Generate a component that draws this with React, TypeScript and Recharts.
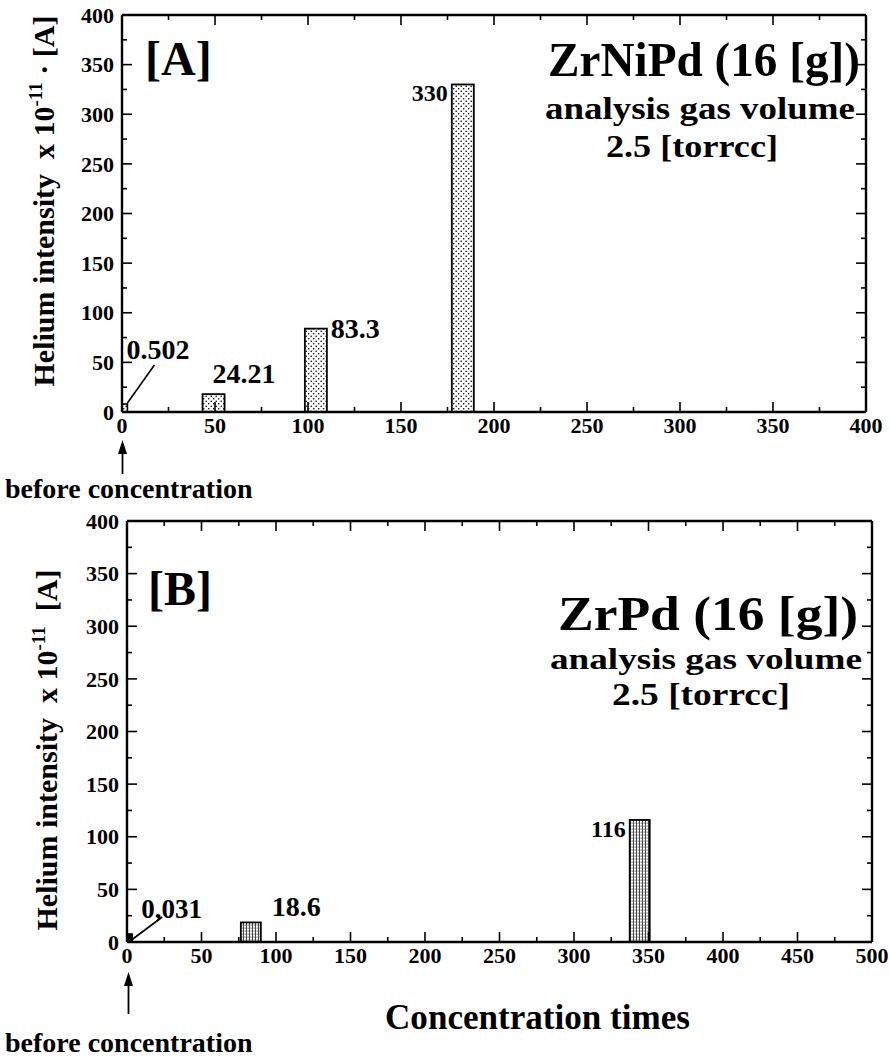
import React from 'react';
import { BarChart, Bar, XAxis, YAxis } from 'recharts';

const FONT = "'Liberation Serif', 'Times New Roman', Times, serif";

// ---------- Panel A : ZrNiPd ----------
const concentrationA = [0, 49, 104, 183];
const heliumA = [0.502, 18, 84, 330];
const valueLabelsA = ['0.502', '24.21', '83.3', '330'];
const labelPlacementA = ['leader', 'above', 'right', 'left'];
const xMajorA = [0, 50, 100, 150, 200, 250, 300, 350, 400];
const xMinorA = [25, 75, 125, 175, 225, 275, 325, 375];

// ---------- Panel B : ZrPd ----------
const concentrationB = [0, 83, 344];
const heliumB = [0.031, 18.6, 116];
const valueLabelsB = ['0,031', '18.6', '116'];
const labelPlacementB = ['leader', 'upperRight', 'left'];
const xMajorB = [0, 50, 100, 150, 200, 250, 300, 350, 400, 450, 500];
const xMinorB = [25, 75, 125, 175, 225, 275, 325, 375, 425, 475];

// ---------- shared y axis ----------
const yMajor = [0, 50, 100, 150, 200, 250, 300, 350, 400];
const yMinor = [25, 75, 125, 175, 225, 275, 325, 375];

const dataA = concentrationA.map((x, i) => ({ x, y: heliumA[i], label: valueLabelsA[i], place: labelPlacementA[i] }));
const dataB = concentrationB.map((x, i) => ({ x, y: heliumB[i], label: valueLabelsB[i], place: labelPlacementB[i] }));

const AX = { stroke: '#000', strokeWidth: 2.4 };

function XTick(props: any) {
  const { x, y, payload, side, majors } = props;
  const v = payload.value;
  const major = majors.includes(v);
  const len = major ? 10 : 5;
  const dir = side === 'bottom' ? -1 : 1;
  return (
    <g>
      <line x1={x} y1={y} x2={x} y2={y + dir * len} stroke="#000" strokeWidth={1.6} />
      {side === 'bottom' && major ? (
        <text x={x} y={y + 21} textAnchor="middle" fontFamily={FONT} fontWeight="bold" fontSize={22} fill="#000">
          {v}
        </text>
      ) : null}
    </g>
  );
}

function YTick(props: any) {
  const { x, y, payload, side } = props;
  const v = payload.value;
  const major = yMajor.includes(v);
  const len = major ? 10 : 5;
  const dir = side === 'left' ? 1 : -1;
  return (
    <g>
      <line x1={x} y1={y} x2={x + dir * len} y2={y} stroke="#000" strokeWidth={1.6} />
      {side === 'left' && major ? (
        <text x={x - 8} y={y} dy="0.35em" textAnchor="end" fontFamily={FONT} fontWeight="bold" fontSize={22} fill="#000">
          {v}
        </text>
      ) : null}
    </g>
  );
}

function BarShape(props: any) {
  const { x, y, width, height, payload, fillId, markerFill, leader } = props;
  const cx = x + width / 2;
  const base = y + height;
  const labelStyle = { fontFamily: FONT, fontWeight: 'bold' as const, fontSize: 28, fill: '#000' };
  let body;
  if (height < 4) {
    body = <rect x={cx - 5} y={base - 8} width={10} height={8} fill={markerFill} stroke="#000" strokeWidth={1.6} />;
  } else {
    body = <rect x={x} y={y} width={width} height={height} fill={`url(#${fillId})`} stroke="#000" strokeWidth={1.8} />;
  }
  let label = null;
  const p = payload.place;
  if (p === 'leader') {
    label = (
      <g>
        <line x1={cx + leader.x1} y1={base + leader.y1} x2={cx + leader.x2} y2={base + leader.y2} stroke="#000" strokeWidth={1.6} />
        <text x={cx + leader.tx} y={base + leader.ty} {...labelStyle} fontSize={leader.fs}>{payload.label}</text>
      </g>
    );
  } else if (p === 'above') {
    label = <text x={x + 10} y={y - 11} {...labelStyle}>{payload.label}</text>;
  } else if (p === 'upperRight') {
    label = <text x={x + width + 11} y={y - 6} {...labelStyle}>{payload.label}</text>;
  } else if (p === 'right') {
    label = <text x={x + width + 4} y={y + 9} {...labelStyle}>{payload.label}</text>;
  } else if (p === 'left') {
    label = <text x={x - 4} y={y + 17} textAnchor="end" {...labelStyle} fontSize={24}>{payload.label}</text>;
  }
  return (
    <g>
      {body}
      {label}
    </g>
  );
}

function Panel(props: any) {
  const { data, xMajor, xMinor, xMax, width, height, margin, yAxisWidth, barSize, fillId, markerFill, leader } = props;
  const xTicks = [...xMajor, ...xMinor].sort((a: number, b: number) => a - b);
  const yTicks = [...yMajor, ...yMinor].sort((a, b) => a - b);
  return (
    <BarChart width={width} height={height} data={data} margin={margin}>
      <XAxis xAxisId="b" type="number" dataKey="x" domain={[0, xMax]} ticks={xTicks} interval={0} orientation="bottom"
        height={30} tickSize={0} tickMargin={0} tickLine={false} axisLine={AX} allowDataOverflow
        tick={(p: any) => <XTick {...p} side="bottom" majors={xMajor} />} />
      <XAxis xAxisId="t" type="number" dataKey="x" domain={[0, xMax]} ticks={xTicks} interval={0} orientation="top"
        height={1} tickSize={0} tickMargin={0} tickLine={false} axisLine={AX} allowDataOverflow
        tick={(p: any) => <XTick {...p} side="top" majors={xMajor} />} />
      <YAxis yAxisId="l" type="number" domain={[0, 400]} ticks={yTicks} interval={0} orientation="left"
        width={yAxisWidth} tickSize={0} tickMargin={0} tickLine={false} axisLine={AX} allowDataOverflow
        tick={(p: any) => <YTick {...p} side="left" />} />
      <YAxis yAxisId="r" type="number" domain={[0, 400]} ticks={yTicks} interval={0} orientation="right"
        width={1} tickSize={0} tickMargin={0} tickLine={false} axisLine={AX} allowDataOverflow
        tick={(p: any) => <YTick {...p} side="right" />} />
      <Bar xAxisId="b" yAxisId="l" dataKey="y" barSize={barSize} isAnimationActive={false}
        shape={(p: any) => <BarShape {...p} fillId={fillId} markerFill={markerFill} leader={leader} />} />
    </BarChart>
  );
}

const T = { fontFamily: FONT, fontWeight: 'bold' as const, fill: '#000' };

export default function App() {
  return (
    <div style={{ position: 'absolute', left: 0, top: 0, width: 890, height: 1059, background: '#fff', overflow: 'hidden' }}>
      <svg width={0} height={0} style={{ position: 'absolute' }}>
        <defs>
          <pattern id="dotsA" patternUnits="userSpaceOnUse" width={5} height={5}>
            <rect width={5} height={5} fill="#fff" />
            <circle cx={1.2} cy={1.2} r={0.8} fill="#000" />
            <circle cx={3.7} cy={3.7} r={0.8} fill="#000" />
          </pattern>
          <pattern id="meshB" patternUnits="userSpaceOnUse" width={3} height={3}>
            <rect width={3} height={3} fill="#fff" />
            <rect x={0} y={0} width={0.9} height={3} fill="#333" />
            <rect x={1.6} y={1.6} width={1} height={1} fill="#222" />
          </pattern>
        </defs>
      </svg>

      <div style={{ position: 'absolute', left: 0, top: 0 }}>
        <Panel data={dataA} xMajor={xMajorA} xMinor={xMinorA} xMax={400} width={890} height={450}
          margin={{ top: 14, right: 23, left: 0, bottom: 8 }} yAxisWidth={122} barSize={22}
          fillId="dotsA" markerFill="url(#dotsA)"
          leader={{ x1: 5, y1: -9, x2: 32, y2: -47, tx: 4, ty: -53, fs: 28 }} />
      </div>
      <div style={{ position: 'absolute', left: 0, top: 500 }}>
        <Panel data={dataB} xMajor={xMajorB} xMinor={xMinorB} xMax={500} width={890} height={480}
          margin={{ top: 20, right: 17, left: 0, bottom: 8 }} yAxisWidth={127} barSize={20}
          fillId="meshB" markerFill="#000"
          leader={{ x1: 3, y1: -1, x2: 35, y2: -25, tx: 14, ty: -24, fs: 27 }} />
      </div>

      <svg width={890} height={1059} style={{ position: 'absolute', left: 0, top: 0, pointerEvents: 'none' }}>
        {/* Panel A annotations */}
        <text x={145} y={75} {...T} fontSize={48}>[A]</text>
        <text x={860} y={76} textAnchor="end" {...T} fontSize={49} textLength={312} lengthAdjust="spacingAndGlyphs">ZrNiPd (16 [g])</text>
        <text x={855} y={119} textAnchor="end" {...T} fontSize={31} textLength={310} lengthAdjust="spacingAndGlyphs">analysis gas volume</text>
        <text x={778} y={157} textAnchor="end" {...T} fontSize={31} textLength={172} lengthAdjust="spacingAndGlyphs">2.5 [torrcc]</text>
        <text transform="translate(54,201) rotate(-90)" textAnchor="middle" {...T} fontSize={30} style={{ whiteSpace: 'pre' }}>
          {'Helium intensity  x 10'}
          <tspan dy={-12} fontSize={19}>-11</tspan>
          <tspan dy={12}>{' · [A]'}</tspan>
        </text>
        <line x1={122.5} y1={452} x2={122.5} y2={474} stroke="#000" strokeWidth={1.8} />
        <polygon points="122.5,440 118,454 127,454" fill="#000" />
        <text x={5} y={498} {...T} fontSize={28}>before concentration</text>

        {/* Panel B annotations */}
        <text x={148} y={605} {...T} fontSize={48}>[B]</text>
        <text x={858} y={630} textAnchor="end" {...T} fontSize={49} textLength={300} lengthAdjust="spacingAndGlyphs">ZrPd (16 [g])</text>
        <text x={862} y={669} textAnchor="end" {...T} fontSize={30} textLength={312} lengthAdjust="spacingAndGlyphs">analysis gas volume</text>
        <text x={790} y={705} textAnchor="end" {...T} fontSize={31} textLength={178} lengthAdjust="spacingAndGlyphs">2.5 [torrcc]</text>
        <text transform="translate(57,750) rotate(-90)" textAnchor="middle" {...T} fontSize={30} style={{ whiteSpace: 'pre' }}>
          {'Helium intensity  x 10'}
          <tspan dy={-12} fontSize={19}>-11</tspan>
          <tspan dy={12}>{'  [A]'}</tspan>
        </text>
        <line x1={128.5} y1={985} x2={128.5} y2={1014} stroke="#000" strokeWidth={1.8} />
        <polygon points="128.5,972 124,986 133,986" fill="#000" />
        <text x={5} y={1052} {...T} fontSize={28}>before concentration</text>
        <text x={385} y={1029} {...T} fontSize={35} textLength={305} lengthAdjust="spacingAndGlyphs">Concentration times</text>
      </svg>
    </div>
  );
}
